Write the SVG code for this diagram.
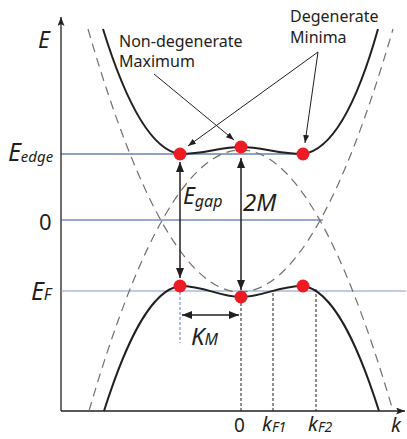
<svg xmlns="http://www.w3.org/2000/svg" width="407" height="439" viewBox="0 0 407 439">
<defs>
<marker id="ah" viewBox="0 0 10 8" refX="10" refY="4" markerWidth="10" markerHeight="8" markerUnits="userSpaceOnUse" orient="auto-start-reverse"><path d="M0,0 L10,4 L0,8 Z" fill="#231f20"/></marker>
<marker id="sa" viewBox="0 0 8 6" refX="8" refY="3" markerWidth="8" markerHeight="6" markerUnits="userSpaceOnUse" orient="auto"><path d="M0,0 L8,3 L0,6 Z" fill="#231f20"/></marker>
<marker id="ax" viewBox="0 0 9 7" refX="9" refY="3.5" markerWidth="9" markerHeight="7" markerUnits="userSpaceOnUse" orient="auto"><path d="M0,0 L9,3.5 L0,7 L2,3.5 Z" fill="#231f20"/></marker>
</defs>
<style>
.ax{stroke:#231f20;stroke-width:1.3;fill:none}
.bl{stroke-width:1.2;fill:none}
.dash{stroke:#786e66;stroke-width:1.2;fill:none;stroke-dasharray:9 6}
.band{stroke:#231f20;stroke-width:2;fill:none}
.vd{stroke:#231f20;stroke-width:1;stroke-dasharray:3 2;fill:none}
.dbl{stroke:#231f20;stroke-width:1.5;fill:none}
.ann{stroke:#231f20;stroke-width:1;fill:none}
.dot{fill:#ed1c24}
text{font-family:"Noto Sans","Open Sans",sans-serif;fill:#231f20}
.it{font-style:italic}
.lab{font-size:16px}
</style>
<g id="axes">
<line class="ax" x1="61" y1="411" x2="61" y2="17" marker-end="url(#ax)"/>
<line class="ax" x1="61" y1="411" x2="405" y2="411" marker-end="url(#ax)"/>
</g>
<g id="levels">
<line class="bl" x1="61" y1="154" x2="303" y2="154" stroke="#21458f"/>
<line class="bl" x1="61" y1="220" x2="323" y2="220" stroke="#2d55a3"/>
<line class="bl" x1="61" y1="291" x2="406" y2="291" stroke="#7f97c6"/>
</g>
<g id="dashed-bands">
<path class="dash" d="M88,29 Q240.5,555 393,29"/>
<path class="dash" d="M89,411 Q241,-111 393,411"/>
</g>
<g id="upper-band">
<path class="band" d="M103,29 C125,100 150,150 180,154 C205,154 220,147 241,147 C262,147 278,154 303,154 C333,150 358,100 378,29"/>
</g>
<g id="lower-band">
<path class="band" d="M104,411 C125,345 150,290 180,286 C205,286 220,297 241,297 C262,297 278,286 303,286 C333,290 358,345 379,411"/>
</g>
<g id="connectors">
<line class="vd" x1="241" y1="303" x2="241" y2="411"/>
<line class="vd" x1="273" y1="293" x2="273" y2="411"/>
<line class="vd" x1="316" y1="289" x2="316" y2="411"/>
<line class="vd" x1="180" y1="292" x2="180" y2="343" style="stroke:#5b7fc4"/>
<line class="dbl" x1="180" y1="162" x2="180" y2="278" marker-start="url(#ah)" marker-end="url(#ah)"/>
<line class="dbl" x1="241" y1="158" x2="241" y2="290" marker-start="url(#ah)" marker-end="url(#ah)"/>
<line class="dbl" x1="182" y1="315" x2="239" y2="315" marker-start="url(#ah)" marker-end="url(#ah)"/>
<line class="ann" x1="154" y1="74" x2="234" y2="140" marker-end="url(#sa)"/>
<line class="ann" x1="318" y1="52" x2="188" y2="146" marker-end="url(#sa)"/>
<line class="ann" x1="318" y1="52" x2="305" y2="143" marker-end="url(#sa)"/>
</g>
<g id="points">
<circle class="dot" cx="180" cy="154" r="6.5"/>
<circle class="dot" cx="241" cy="147" r="6.5"/>
<circle class="dot" cx="303" cy="154" r="6.5"/>
<circle class="dot" cx="180" cy="286" r="6.5"/>
<circle class="dot" cx="241" cy="297" r="6.5"/>
<circle class="dot" cx="303" cy="286" r="6.5"/>
</g>
<g id="labels">
<text class="it" x="38" y="48" font-size="23">E</text>
<text x="8" y="161" font-size="25" class="it">E<tspan font-size="15" dy="1">edge</tspan></text>
<text x="39" y="230" font-size="22">0</text>
<text x="31" y="300" font-size="25" class="it">E<tspan font-size="16" dy="0">F</tspan></text>
<text x="183" y="204" font-size="23" class="it">E<tspan font-size="16" dy="3">gap</tspan></text>
<text x="243" y="211" font-size="24" class="it">2M</text>
<text x="191" y="345" font-size="24" class="it">K<tspan font-size="16" dy="0">M</tspan></text>
<text x="234" y="432" font-size="19">0</text>
<text x="262" y="431" font-size="20" class="it">k<tspan font-size="14" dy="1">F1</tspan></text>
<text x="308" y="431" font-size="20" class="it">k<tspan font-size="14" dy="1">F2</tspan></text>
<text x="391" y="432" font-size="20" class="it">k</text>
<text class="lab" x="119" y="47">Non-degenerate</text>
<text class="lab" x="119" y="67">Maximum</text>
<text class="lab" x="290" y="22">Degenerate</text>
<text class="lab" x="290" y="43">Minima</text>
</g>
</svg>
